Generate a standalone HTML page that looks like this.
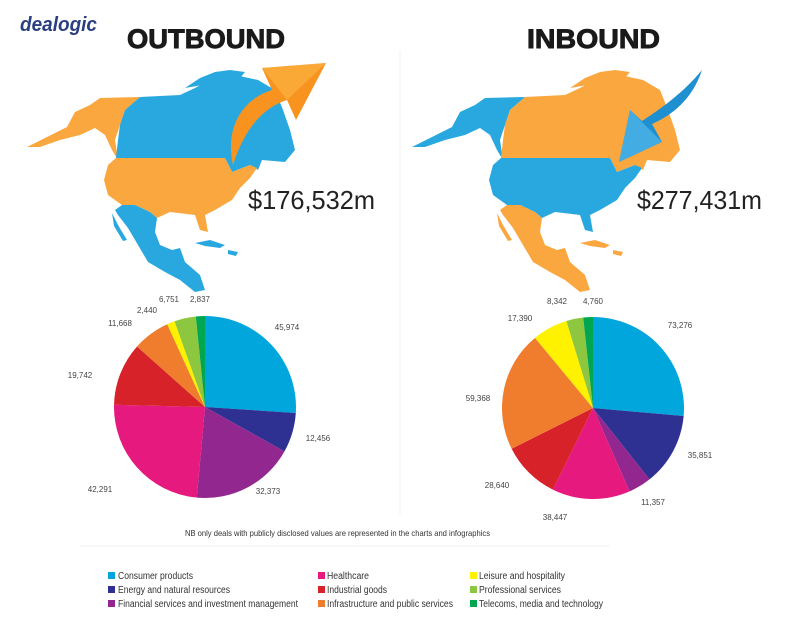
<!DOCTYPE html>
<html><head><meta charset="utf-8"><style>
html,body{margin:0;padding:0;background:#fff;}
svg{display:block;font-family:"Liberation Sans",Arial,sans-serif;}
</style></head><body>
<svg id="s" width="800" height="627" viewBox="0 0 800 627" xmlns="http://www.w3.org/2000/svg">
<rect width="800" height="627" fill="#fff"/>
<line x1="400" y1="50" x2="400" y2="515" stroke="#f0f0f0" stroke-width="1"/>
<text x="20" y="31" font-size="20" font-weight="bold" font-style="italic" fill="#2a3f7f" textLength="77" lengthAdjust="spacingAndGlyphs">dealogic</text>
<text x="127" y="48" font-size="27" font-weight="bold" fill="#1a1a1a" stroke="#1a1a1a" stroke-width="0.9" textLength="158" lengthAdjust="spacingAndGlyphs">OUTBOUND</text>
<text x="527" y="48" font-size="27" font-weight="bold" fill="#1a1a1a" stroke="#1a1a1a" stroke-width="0.9" textLength="133" lengthAdjust="spacingAndGlyphs">INBOUND</text>

<g id="mapO">
<path fill="#f9a73e" d="M27,147 L45,138 L67,127 L75,112 L90,105 L100,98 L140,97 L125,110 L120,125 L115,140 L118,160 L112,150 L105,135 L95,128 L80,135 L60,140 L40,147 Z"/>
<path fill="#29a8e0" d="M140,97 L180,95 L195,88 L210,80 L235,75 L258,80 L275,90 L283,110 L290,130 L295,150 L285,162 L262,160 L258,170 L250,165 L232,172 L225,158 L116,158 L118,140 L120,125 L125,110 Z"/>
<path fill="#29a8e0" d="M185,88 L200,78 L215,72 L230,70 L245,72 L240,78 L220,82 Z"/>
<path fill="#f9a73e" d="M116,158 L225,158 L232,172 L250,165 L257,168 L250,178 L240,188 L232,200 L215,210 L205,215 L208,232 L200,230 L195,215 L170,212 L157,218 L150,212 L135,205 L122,205 L108,195 L104,180 L108,165 Z"/>
<path fill="#29a8e0" d="M115,210 L122,205 L135,205 L150,212 L157,218 L155,232 L160,245 L172,250 L180,248 L185,262 L200,275 L205,290 L195,292 L180,280 L165,272 L148,262 L138,245 L128,228 L118,215 Z"/>
<path fill="#29a8e0" d="M112,213 L118,225 L127,240 L123,241 L114,226 Z"/>
<path fill="#29a8e0" d="M195,243 L210,240 L225,245 L220,248 L205,246 Z M228,250 L238,252 L236,256 L228,254 Z"/>
</g>
<path fill="#f7931e" d="M233,165 C224,125 245,98 272,90 L262,68 L326,63 L296,120 L287,100 C262,108 244,130 233,165 Z"/>
<path fill="#fbb040" d="M262,68 L326,63 L287,100 Z" opacity="0.7"/>

<g transform="translate(385,0)">
<path fill="#29a8e0" d="M27,147 L45,138 L67,127 L75,112 L90,105 L100,98 L140,97 L125,110 L120,125 L115,140 L118,160 L112,150 L105,135 L95,128 L80,135 L60,140 L40,147 Z"/>
<path fill="#f9a73e" d="M140,97 L180,95 L195,88 L210,80 L235,75 L258,80 L275,90 L283,110 L290,130 L295,150 L285,162 L262,160 L258,170 L250,165 L232,172 L225,158 L116,158 L118,140 L120,125 L125,110 Z"/>
<path fill="#f9a73e" d="M185,88 L200,78 L215,72 L230,70 L245,72 L240,78 L220,82 Z"/>
<path fill="#29a8e0" d="M116,158 L225,158 L232,172 L250,165 L257,168 L250,178 L240,188 L232,200 L215,210 L205,215 L208,232 L200,230 L195,215 L170,212 L157,218 L150,212 L135,205 L122,205 L108,195 L104,180 L108,165 Z"/>
<path fill="#f9a73e" d="M115,210 L122,205 L135,205 L150,212 L157,218 L155,232 L160,245 L172,250 L180,248 L185,262 L200,275 L205,290 L195,292 L180,280 L165,272 L148,262 L138,245 L128,228 L118,215 Z"/>
<path fill="#f9a73e" d="M112,213 L118,225 L127,240 L123,241 L114,226 Z"/>
<path fill="#f9a73e" d="M195,243 L210,240 L225,245 L220,248 L205,246 Z M228,250 L238,252 L236,256 L228,254 Z"/>
</g>
<path fill="#1e8fd0" d="M702,70 C692,100 672,115 652,124 L662,142 L619,162 L630,110 L642,121 C662,108 684,92 702,70 Z"/>
<path fill="#5bc0ee" d="M662,142 L619,162 L630,110 Z" opacity="0.6"/>

<text x="248" y="209" font-size="26" fill="#222" textLength="127" lengthAdjust="spacingAndGlyphs">$176,532m</text>
<text x="637" y="209" font-size="26" fill="#222" textLength="125" lengthAdjust="spacingAndGlyphs">$277,431m</text>

<g id="pies"></g>
<g font-size="8" fill="#444" text-anchor="middle">
<text x="287" y="330">45,974</text><text x="318" y="441">12,456</text><text x="268" y="494">32,373</text>
<text x="100" y="492">42,291</text><text x="80" y="378">19,742</text><text x="120" y="326">11,668</text>
<text x="147" y="313">2,440</text><text x="169" y="302">6,751</text><text x="200" y="302">2,837</text>
<text x="680" y="328">73,276</text><text x="700" y="458">35,851</text><text x="653" y="505">11,357</text>
<text x="555" y="520">38,447</text><text x="497" y="488">28,640</text><text x="478" y="401">59,368</text>
<text x="520" y="321">17,390</text><text x="557" y="304">8,342</text><text x="593" y="304">4,760</text>
</g>

<text x="185" y="536" font-size="8.5" fill="#333" textLength="305" lengthAdjust="spacingAndGlyphs">NB only deals with publicly disclosed values are represented in the charts and infographics</text>
<line x1="80" y1="546" x2="610" y2="546" stroke="#f2f2f2"/>

<g font-size="10" fill="#333">
<rect x="108" y="572" width="7" height="7" fill="#00a6dc"/><text x="118" y="579" textLength="75" lengthAdjust="spacingAndGlyphs">Consumer products</text>
<rect x="108" y="586" width="7" height="7" fill="#2e3192"/><text x="118" y="593" textLength="112" lengthAdjust="spacingAndGlyphs">Energy and natural resources</text>
<rect x="108" y="600" width="7" height="7" fill="#92278f"/><text x="118" y="607" textLength="180" lengthAdjust="spacingAndGlyphs">Financial services and investment management</text>
<rect x="318" y="572" width="7" height="7" fill="#e6197f"/><text x="327" y="579" textLength="42" lengthAdjust="spacingAndGlyphs">Healthcare</text>
<rect x="318" y="586" width="7" height="7" fill="#d7222a"/><text x="327" y="593" textLength="60" lengthAdjust="spacingAndGlyphs">Industrial goods</text>
<rect x="318" y="600" width="7" height="7" fill="#ef7d2d"/><text x="327" y="607" textLength="126" lengthAdjust="spacingAndGlyphs">Infrastructure and public services</text>
<rect x="470" y="572" width="7" height="7" fill="#fff200"/><text x="479" y="579" textLength="86" lengthAdjust="spacingAndGlyphs">Leisure and hospitality</text>
<rect x="470" y="586" width="7" height="7" fill="#8dc63f"/><text x="479" y="593" textLength="82" lengthAdjust="spacingAndGlyphs">Professional services</text>
<rect x="470" y="600" width="7" height="7" fill="#00a650"/><text x="479" y="607" textLength="124" lengthAdjust="spacingAndGlyphs">Telecoms, media and technology</text>
</g>
</svg>
<script>
(function(){
var cols=["#00a6dc","#2e3192","#92278f","#e6197f","#d7222a","#ef7d2d","#fff200","#8dc63f","#00a650"];
function pie(cx,cy,r,vals){
  var t=vals.reduce(function(a,b){return a+b},0),a=-Math.PI/2,out="";
  vals.forEach(function(v,i){
    var b=a+v/t*2*Math.PI;
    var x1=cx+r*Math.cos(a),y1=cy+r*Math.sin(a),x2=cx+r*Math.cos(b),y2=cy+r*Math.sin(b);
    var l=(b-a)>Math.PI?1:0;
    out+='<path fill="'+cols[i]+'" d="M'+cx+','+cy+' L'+x1.toFixed(2)+','+y1.toFixed(2)+' A'+r+','+r+' 0 '+l+' 1 '+x2.toFixed(2)+','+y2.toFixed(2)+' Z"/>';
    a=b;
  });
  return out;
}
document.getElementById("pies").innerHTML=
  pie(205,407,91,[45974,12456,32373,42291,19742,11668,2440,6751,2837])+
  pie(593,408,91,[73276,35851,11357,38447,28640,59368,17390,8342,4760]);
})();
</script>
</body></html>
